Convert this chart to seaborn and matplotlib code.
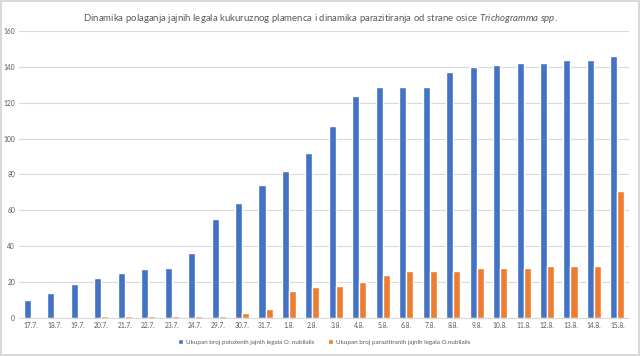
import pandas as pd
import matplotlib
matplotlib.use('Agg')
import matplotlib.pyplot as plt
import seaborn as sns

dates = ['17.7.', '18.7.', '19.7.', '20.7.', '21.7.', '22.7.', '23.7.', '24.7.', '29.7.',
         '30.7.', '31.7.', '1.8.', '2.8.', '3.8.', '4.8.', '5.8.', '6.8.', '7.8.', '8.8.',
         '9.8.', '10.8.', '11.8.', '12.8.', '13.8.', '14.8.', '15.8.']
polozeno = [10, 14, 19, 22, 25, 27, 28, 36, 55, 64, 74, 82, 92, 107, 124, 129, 129, 129,
            137, 140, 141, 142, 142, 144, 144, 146]
parazitirano = [0, 0, 0, 1, 1, 1, 1, 1, 1, 3, 5, 15, 17, 18, 20, 24, 26, 26, 26, 28, 28,
                28, 29, 29, 29, 71]
series_names = ['Ukupan broj položenih jajnih legala O. nubilalis',
                'Ukupan broj parazitiranih jajnih legala O.nubilalis']
colors = ['#4472C4', '#ED7D31']

df = pd.DataFrame({
    'datum': dates * 2,
    'broj': polozeno + parazitirano,
    'serija': [series_names[0]] * len(dates) + [series_names[1]] * len(dates),
})

sns.set_style('white')
plt.rcParams['font.family'] = ['Lato', 'DejaVu Sans']
plt.rcParams['mathtext.fontset'] = 'custom'
plt.rcParams['mathtext.rm'] = 'Lato'
plt.rcParams['mathtext.it'] = 'Lato:italic'

fig = plt.figure(figsize=(6.4, 3.56), dpi=100)
fig.patch.set_edgecolor('#D9D9D9')
fig.patch.set_linewidth(1.5)
ax = fig.add_axes([0.03, 0.107, 0.953, 0.806])

sns.barplot(data=df, x='datum', y='broj', hue='serija', order=dates,
            hue_order=series_names, palette=colors, width=0.6, ax=ax,
            saturation=1, legend=True)

ax.set_ylim(0, 160)
ax.set_yticks(range(0, 161, 20))
ax.yaxis.grid(True, color='#D9D9D9', linewidth=0.8)
ax.set_axisbelow(True)
for s in ['top', 'right', 'left']:
    ax.spines[s].set_visible(False)
ax.spines['bottom'].set_color('#D9D9D9')
ax.tick_params(axis='both', labelsize=4.8, colors='#595959', length=0, pad=3)
ax.set_xlabel('')
ax.set_ylabel('')

fig.suptitle('Dinamika polaganja jajnih legala kukuruznog plamenca i dinamika parazitiranja '
             'od strane osice $\\it{Trichogramma\\ spp.}$',
             y=0.965, fontsize=6.9, color='#595959')

ax.legend(loc='upper center', bbox_to_anchor=(0.5, -0.055), ncol=2, frameon=False,
          fontsize=4.5, labelcolor='#595959', handlelength=0.8, handleheight=0.8,
          columnspacing=2.2, handletextpad=0.4)

fig.savefig('out.png', dpi=100, edgecolor=fig.get_edgecolor())
